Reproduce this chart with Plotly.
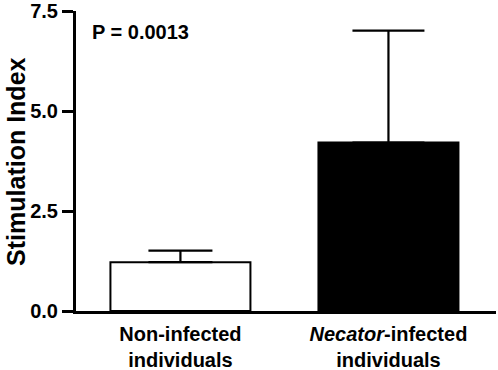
import plotly.graph_objects as go

categories = ["Non-infected<br>individuals", "<i>Necator</i>-infected<br>individuals"]
means = [1.22, 4.21]
errors_up = [0.29, 2.80]
y_tick_vals = [0, 2.5, 5.0, 7.5]
y_tick_text = ["0.0", "2.5", "5.0", "7.5"]
p_label = "P = 0.0013"
y_title = "Stimulation Index"

fills = ["white", "black"]
cap_half = [32, 36]

FONT = "Liberation Sans, Arial, sans-serif"
L, R, T, B = 76, 2, 11, 59
PW = 498 - L - R
PH = 370 - T - B

fig = go.Figure()
for i in range(len(categories)):
    fig.add_trace(go.Bar(
        x=[categories[i]], y=[means[i]],
        width=0.673,
        marker=dict(color=fills[i], line=dict(color="black", width=2)),
        error_y=dict(type="data", symmetric=False, array=[errors_up[i]], arrayminus=[0],
                     color="black", thickness=2.2, width=cap_half[i]),
        showlegend=False,
    ))

fig.update_layout(
    width=498, height=370,
    margin=dict(l=L, r=R, t=T, b=B),
    paper_bgcolor="white", plot_bgcolor="white",
    font=dict(family=FONT, color="black", size=20, weight="bold"),
)
fig.update_xaxes(
    type="category", range=[-0.502, 1.517],
    showline=True, linewidth=3, linecolor="black",
    ticks="", showgrid=False, zeroline=False, automargin=False,
    tickfont=dict(family=FONT, size=20, color="black", weight="bold"),
    ticklabelstandoff=3, ticklabeloverflow="allow",
)
fig.update_yaxes(
    range=[0, 7.5001],
    tickvals=y_tick_vals, ticktext=y_tick_text,
    showline=True, linewidth=3, linecolor="black",
    ticks="outside", ticklen=11, tickwidth=3, tickcolor="black",
    showgrid=False, zeroline=False, automargin=False,
    tickfont=dict(family=FONT, size=20, color="black", weight="bold"),
    ticklabeloverflow="allow",
)
fig.add_annotation(
    text=p_label, xref="paper", yref="y", x=(90 - L) / PW, y=6.97,
    xanchor="left", yanchor="middle", showarrow=False,
    font=dict(family=FONT, size=20, color="black", weight="bold"),
)
fig.add_annotation(
    text=y_title, xref="paper", yref="paper", x=-L / PW, y=0.497,
    xanchor="left", yanchor="middle", textangle=-90, showarrow=False,
    font=dict(family=FONT, size=25, color="black", weight="bold"),
)
fig.write_html("out.html", config={"displayModeBar": False},
               post_script="document.body.style.margin='0';")
